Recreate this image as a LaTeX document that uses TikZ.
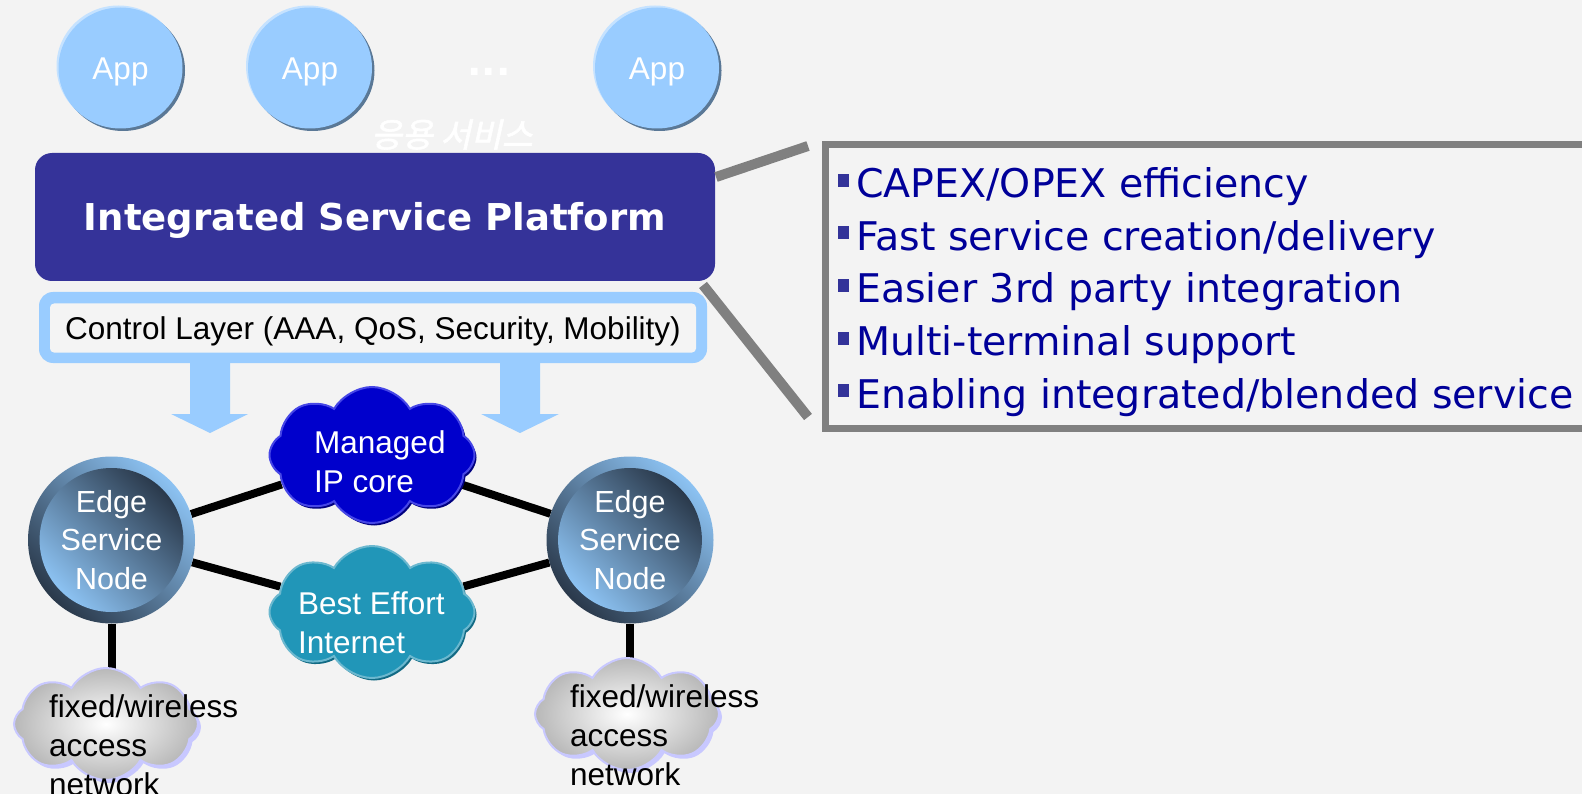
\documentclass[tikz,border=0pt]{standalone}
\usepackage{fontspec}
\setmainfont{Liberation Sans}
\newfontfamily\dv{DejaVu Sans}
\newfontfamily\kr{Noto Sans CJK KR}[FakeSlant=0.22,FakeBold=1.8]
\usetikzlibrary{shapes.geometric,shapes.symbols,shadows}
\pgfdeclarelayer{back}
\pgfdeclarelayer{links}
\pgfsetlayers{back,links,main}
\definecolor{bgc}{HTML}{F3F3F3}
\definecolor{appblue}{HTML}{99CCFF}
\definecolor{appsh}{HTML}{5A7896}
\definecolor{apphl}{HTML}{C5E2FF}
\definecolor{plat}{HTML}{353399}
\definecolor{ctrlin}{HTML}{F4F4F4}
\definecolor{mgdc}{HTML}{0000CC}
\definecolor{mgdedge}{HTML}{4646E6}
\definecolor{mgdsh}{HTML}{000080}
\definecolor{beic}{HTML}{2196B8}
\definecolor{beiedge}{HTML}{6CB8CF}
\definecolor{beish}{HTML}{126A84}
\definecolor{accedge}{HTML}{C8C8FF}
\definecolor{accgray}{HTML}{B8B8B8}
\definecolor{esnlight}{HTML}{8CC2F2}
\definecolor{esndark}{HTML}{2A394B}
\definecolor{gline}{HTML}{808080}
\definecolor{btext}{HTML}{000099}
\definecolor{bsq}{HTML}{333399}
\begin{document}
\begin{tikzpicture}[x=1pt,y=-1pt,
  arial/.style={font=\fontsize{31.5}{39}\selectfont},
  app/.style={ellipse,minimum width=124,minimum height=121,inner sep=0,
    fill=appblue,text=white,arial,text height=22.5pt,text depth=0pt,
    drop shadow={shadow xshift=-2pt,shadow yshift=2pt,fill=apphl,opacity=1},
    drop shadow={shadow xshift=2.5pt,shadow yshift=-2.5pt,fill=appsh,opacity=1}},
  esnout/.style={ellipse,minimum width=167,minimum height=167,inner sep=0,
    top color=esnlight,bottom color=esndark,shading angle=-45},
  esnin/.style={ellipse,minimum width=143,minimum height=144,inner sep=0,
    top color=esndark,bottom color=esnlight,shading angle=-45,
    text=white,align=center,font=\fontsize{30.5}{38.5}\selectfont},
  cloudbase/.style={cloud,cloud puffs=8,cloud puff arc=120,aspect=1.5,inner sep=0},
  acc/.style={cloudbase,minimum width=184,minimum height=112,
    shading=radial,inner color=white,outer color=accgray,
    draw=accedge,line width=2pt,
    drop shadow={shadow xshift=3pt,shadow yshift=-3pt,fill=accedge,opacity=1}},
  link/.style={line width=8pt,black},
  callout/.style={line width=10pt,gline},
  bullettxt/.style={anchor=base west,inner sep=0,text=btext,
    font=\dv\fontsize{39.5}{47}\selectfont}
]
\begin{pgfonlayer}{back}
\fill[bgc] (0,0) rectangle (1582,794);
\end{pgfonlayer}
\useasboundingbox (0,0) rectangle (1582,794);
\clip (0,0) rectangle (1582,794);

% apps
\node[app] (app1) at (120.5,68) {App};
\node[app] (app2) at (310,68) {App};
\node[app] (app3) at (657,68) {App};
\node[text=white,inner sep=0,anchor=base,font=\dv\bfseries\fontsize{38}{40}\selectfont] (dots) at (489,76) {...};
\node[text=white,inner sep=0,anchor=base,font=\kr\fontsize{33.5}{36}\selectfont] (krtxt) at (452,147) {응용 서비스};

% platform
\node[rectangle,rounded corners=17pt,fill=plat,minimum width=680,minimum height=128,inner sep=0,
  text=white,font=\dv\bfseries\fontsize{37}{44}\selectfont,text height=27pt,text depth=0pt]
  (plat) at (375,217) {Integrated Service Platform};

% control layer
\node[rectangle,rounded corners=14pt,fill=appblue,minimum width=668,minimum height=71,inner sep=0]
  (ctrl) at (373,327.5) {};
\node[rectangle,rounded corners=4pt,fill=ctrlin,minimum width=646,minimum height=49,inner sep=0,
  arial,text height=22.5pt,text depth=0pt] (ctrlin) at (373,328) {Control Layer (AAA, QoS, Security, Mobility)};

% block arrows
\fill[appblue] (190,362) -- (230,362) -- (230,414) -- (248,414) -- (210,433) -- (171,414) -- (190,414) -- cycle;
\fill[appblue] (500,362) -- (540,362) -- (540,414) -- (559,414) -- (520,433) -- (481,414) -- (500,414) -- cycle;

% core clouds
\node[cloudbase,minimum width=205,minimum height=136,fill=mgdc,draw=mgdedge,line width=2pt,
  drop shadow={shadow xshift=2pt,shadow yshift=-2.5pt,fill=mgdsh,opacity=1}] (mgd) at (372,455) {};
\node[anchor=base west,inner sep=0,align=left,text=white,arial] (mgdtxt) at (314,492) {Managed\\IP core};
\node[cloudbase,minimum width=205,minimum height=132,fill=beic,draw=beiedge,line width=2pt,
  drop shadow={shadow xshift=2pt,shadow yshift=-2.5pt,fill=beish,opacity=1}] (bei) at (372,612) {};
\node[anchor=base west,inner sep=0,align=left,text=white,arial] (beitxt) at (298,653) {Best Effort\\Internet};

% edge service nodes
\node[esnout] (esnL) at (111.5,540) {};
\node[esnin] (esnLi) at (111.5,540) {Edge\\Service\\Node};
\node[esnout] (esnR) at (630,540) {};
\node[esnin] (esnRi) at (630,540) {Edge\\Service\\Node};

% access clouds
\node[acc] (accL) at (106,724) {};
\node[anchor=base west,inner sep=0,align=left,arial] (accLtxt) at (49,795) {fixed/wireless\\access\\network};
\node[acc] (accR) at (627,714) {};
\node[anchor=base west,inner sep=0,align=left,arial] (accRtxt) at (570,785) {fixed/wireless\\access\\network};

% links
\begin{pgfonlayer}{links}
\draw[link] (esnL) -- (mgd);
\draw[link] (esnL) -- (bei);
\draw[link] (esnR) -- (mgd);
\draw[link] (esnR) -- (bei);
\draw[link] (esnL) -- (esnL |- accL);
\draw[link] (esnR) -- (esnR |- accR);
\end{pgfonlayer}

% info box
\node[rectangle,draw=gline,line width=7pt,minimum width=800,minimum height=283.5,inner sep=0,anchor=north west]
  (info) at (821.5,141.5) {};
\coordinate (cA1) at (716,177);
\coordinate (cB1) at (808,146);
\coordinate (cA2) at (703,285);
\coordinate (cB2) at (808,417);
\draw[callout] (cA1) -- (cB1);
\draw[callout] (cA2) -- (cB2);

\foreach \i/\t in {0/{CAPEX/OPEX efficiency},1/{Fast service creation/delivery},2/{Easier 3rd party integration},3/{Multi-terminal support},4/{Enabling integrated/blended service}}{
  \fill[bsq] (838,{174+52.5*\i}) rectangle (849,{187+52.5*\i});
  \node[bullettxt] (b\i) at (856,{198+52.5*\i}) {\t};
}
\end{tikzpicture}
\end{document}
